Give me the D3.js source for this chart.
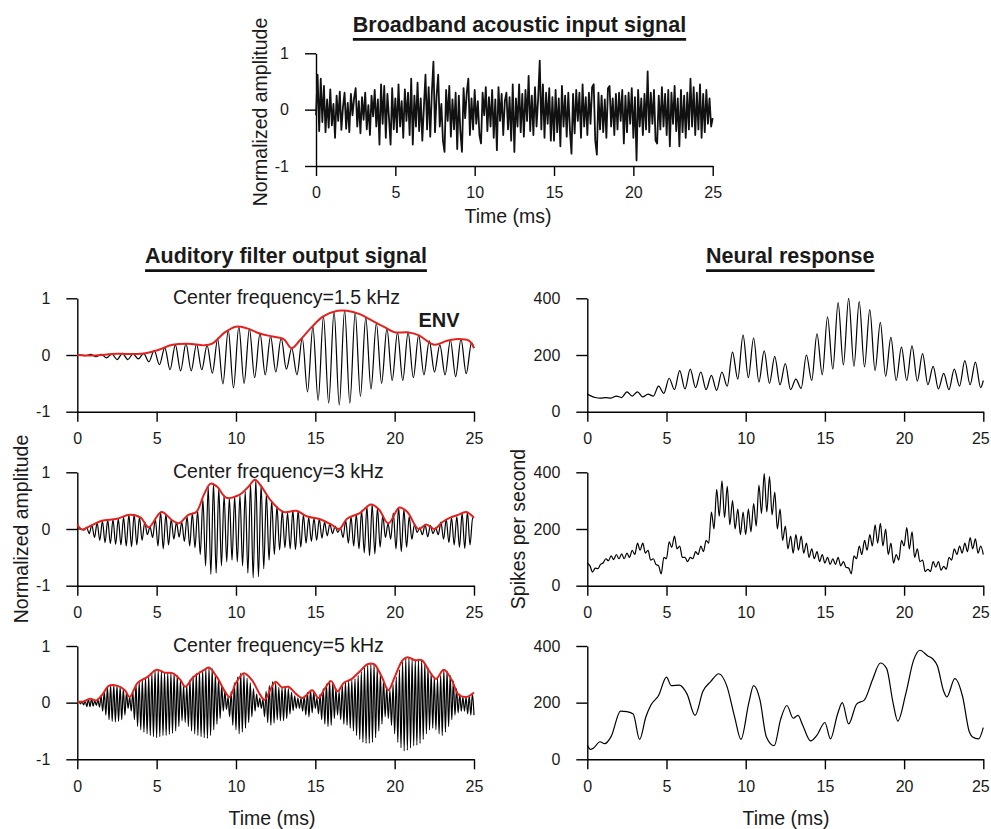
<!DOCTYPE html>
<html>
<head>
<meta charset="utf-8">
<script src="https://cdn.jsdelivr.net/npm/d3@7"></script>
<style>
    body { margin: 0; background: #fff; }
    svg { display: block; font-family: "Liberation Sans", Arial, sans-serif; }
    .axis path, .axis line { stroke: #000; stroke-width: 1.4px; }
    .axis text { font-family: "Liberation Sans", Arial, sans-serif; font-size: 16px; fill: #1a1a1a; }
    .signal { fill: none; stroke: #000; stroke-width: 1.2px; stroke-linejoin: round; }
    .noise { fill: none; stroke: #111; stroke-width: 1.8px; stroke-linejoin: round; }
    .env { fill: none; stroke: #e3221e; stroke-width: 2px; }
    .label { font-size: 19.5px; fill: #1a1a1a; }
    .title { font-size: 21.5px; font-weight: bold; fill: #1a1a1a; }
</style>
</head>
<body>
<svg id="chart" width="991" height="829"></svg>
<script>

// tick values shared by the panels
const timeTicks = [0, 5, 10, 15, 20, 25];
const amplitudeTicks = [-1, 0, 1];
const rateTicks = [0, 200, 400];

// broadband input, one sample every 0.1 ms (rows are 1 ms)
const noiseStep = 0.1;
const noise = [
    -0.10, 0.62, -0.38, 0.55, -0.22, 0.42, -0.40, 0.18, -0.32, 0.36,
    -0.28, 0.10, -0.50, 0.25, -0.20, 0.32, -0.36, 0.05, 0.30, -0.34,
    0.12, -0.40, 0.28, -0.10, 0.20, 0.38, -0.30, 0.15, -0.42, 0.22,
    -0.18, 0.30, -0.35, 0.08, -0.45, 0.25, -0.12, 0.35, -0.30, 0.18,
    -0.62, 0.45, -0.25, 0.42, -0.50, 0.28, -0.15, -0.62, 0.38, -0.35,
    0.20, -0.40, 0.45, -0.30, 0.15, -0.50, 0.36, -0.20, 0.30, -0.45,
    0.55, -0.62, 0.25, -0.30, 0.48, -0.38, 0.20, -0.55, 0.05, 0.62,
    -0.35, 0.40, -0.48, 0.30, 0.85, -0.40, 0.25, 0.62, -0.30, 0.10,
    -0.55, -0.75, 0.35, -0.20, 0.42, -0.48, 0.18, -0.35, 0.30, -0.70,
    0.25, -0.40, -0.75, 0.38, -0.15, 0.30, 0.55, -0.45, 0.20, -0.35,
    0.35, -0.25, 0.15, -0.45, -0.60, 0.30, -0.10, 0.40, -0.38, 0.22,
    -0.30, 0.35, -0.50, 0.18, -0.72, 0.40, -0.20, 0.28, -0.45, 0.15,
    0.30, -0.35, 0.22, -0.55, 0.45, -0.75, 0.20, -0.30, 0.45, -0.40,
    0.28, -0.48, 0.35, -0.20, 0.60, -0.38, 0.25, -0.45, 0.40, -0.30,
    0.20, 0.87, -0.35, 0.45, -0.50, 0.30, -0.25, 0.38, -0.55, 0.22,
    -0.55, 0.35, -0.40, 0.20, -0.65, 0.42, -0.30, 0.25, -0.48, 0.30,
    -0.35, -0.78, 0.28, -0.42, 0.35, -0.20, 0.30, -0.50, 0.45, -0.30,
    0.22, -0.45, 0.30, -0.25, 0.40, 0.45, -0.55, -0.80, 0.30, -0.35,
    0.25, -0.40, 0.18, -0.50, 0.38, 0.42, -0.30, 0.20, -0.45, 0.28,
    -0.35, 0.30, -0.20, 0.35, -0.60, 0.25, -0.40, 0.30, -0.25, 0.38,
    -0.50, 0.22, -0.90, 0.35, -0.30, 0.20, -0.45, 0.28, -0.35, 0.68,
    -0.40, 0.30, -0.25, 0.35, -0.55, -0.60, 0.25, -0.35, 0.40, -0.30,
    0.28, -0.45, 0.35, -0.65, 0.30, -0.25, 0.42, -0.38, 0.20, -0.65,
    0.35, -0.40, 0.25, -0.50, 0.30, -0.35, 0.55, -0.30, 0.40, -0.45,
    0.30, -0.35, 0.45, -0.50, 0.28, -0.40, 0.35, -0.25, 0.20, -0.30,
    -0.15
];

// filter outputs: one peak and one trough value per carrier cycle
const cf15Period = 2 / 3;
const cf15Peaks = [
    0.00, 0.01, 0.01, 0.02, 0.03, 0.02, 0.03, 0.08, 0.13, 0.18,
    0.20, 0.19, 0.17, 0.28, 0.44, 0.50, 0.46, 0.38, 0.33, 0.30,
    0.12, 0.30, 0.50, 0.68, 0.77, 0.79, 0.75, 0.66, 0.56, 0.47,
    0.40, 0.40, 0.35, 0.25, 0.18, 0.26, 0.28, 0.22
];
const cf15Troughs = [
    -0.01, -0.03, -0.05, -0.08, -0.08, -0.07, -0.12, -0.17, -0.26, -0.28,
    -0.28, -0.26, -0.32, -0.51, -0.58, -0.50, -0.40, -0.35, -0.30, -0.25,
    -0.35, -0.65, -0.80, -0.85, -0.88, -0.85, -0.73, -0.60, -0.50, -0.45,
    -0.45, -0.40, -0.35, -0.30, -0.35, -0.38, -0.33
];
const cf15Env = [
    [0, 0], [1, -0.01], [2.5, 0.02], [4, 0.02], [5, 0.08], [6, 0.18], [7, 0.2], [8, 0.17],
    [8.5, 0.2], [9.3, 0.4], [10, 0.5], [10.7, 0.47], [11.5, 0.38], [12.2, 0.33], [13, 0.28],
    [13.5, 0.12], [14, 0.25], [14.8, 0.5], [15.5, 0.68], [16.4, 0.78], [17, 0.78], [17.8, 0.72],
    [18.5, 0.62], [19.3, 0.5], [20, 0.4], [20.8, 0.4], [21.5, 0.35], [22.5, 0.18], [23.3, 0.25],
    [24, 0.28], [24.7, 0.25], [25, 0.12]
];

const cf3Period = 1 / 3;
const cf3Peaks = [
    0.00, 0.03, 0.07, 0.11, 0.14, 0.16, 0.17, 0.18, 0.21, 0.25,
    0.26, 0.21, 0.12, 0.04, 0.18, 0.30, 0.26, 0.17, 0.12, 0.12,
    0.22, 0.28, 0.32, 0.52, 0.74, 0.80, 0.72, 0.60, 0.55, 0.57,
    0.60, 0.66, 0.80, 0.87, 0.78, 0.62, 0.50, 0.40, 0.32, 0.28,
    0.33, 0.32, 0.25, 0.20, 0.19, 0.18, 0.12, 0.09, 0.05, 0.02,
    0.15, 0.22, 0.26, 0.32, 0.40, 0.43, 0.37, 0.25, 0.10, 0.28,
    0.38, 0.34, 0.22, 0.08, 0.02, 0.08, 0.06, 0.02, 0.12, 0.17,
    0.20, 0.22, 0.28, 0.30, 0.20
];
const cf3Troughs = [
    -0.02, -0.08, -0.15, -0.20, -0.24, -0.26, -0.27, -0.28, -0.30, -0.31,
    -0.28, -0.20, -0.10, -0.15, -0.30, -0.35, -0.28, -0.18, -0.14, -0.22,
    -0.30, -0.33, -0.45, -0.65, -0.80, -0.78, -0.65, -0.58, -0.55, -0.58,
    -0.65, -0.78, -0.86, -0.84, -0.70, -0.55, -0.45, -0.37, -0.33, -0.35,
    -0.36, -0.32, -0.25, -0.22, -0.20, -0.16, -0.12, -0.08, -0.06, -0.15,
    -0.25, -0.30, -0.35, -0.42, -0.47, -0.44, -0.32, -0.15, -0.18, -0.35,
    -0.40, -0.32, -0.18, -0.06, -0.10, -0.14, -0.08, -0.10, -0.18, -0.24,
    -0.28, -0.32, -0.34, -0.28
];
const cf3Env = [
    [0, 0.08], [0.3, -0.01], [0.8, 0.05], [1.5, 0.14], [2.5, 0.18], [3.3, 0.25], [4, 0.2],
    [4.5, 0.03], [5.3, 0.3], [6, 0.15], [6.4, 0.1], [7, 0.25], [7.5, 0.3], [8, 0.62], [8.4, 0.8],
    [8.8, 0.75], [9.4, 0.55], [10.2, 0.6], [10.8, 0.75], [11.2, 0.87], [11.6, 0.75], [12.2, 0.5],
    [13, 0.3], [13.8, 0.32], [14.5, 0.22], [15.2, 0.18], [16, 0.08], [16.5, 0], [17, 0.18],
    [17.8, 0.28], [18.5, 0.43], [19, 0.35], [19.6, 0.1], [20.3, 0.38], [20.8, 0.3], [21.5, 0],
    [22, 0.08], [22.5, 0], [23, 0.12], [23.5, 0.2], [24, 0.25], [24.5, 0.3], [25, 0.2]
];

// 5 kHz: peaks every 0.2 ms from 0.1, troughs every 0.2 ms from 0.2 (rows are 1 ms)
const cf5Period = 0.2;
const cf5Peaks = [
    0.02, 0.02, 0.03, 0.06, 0.07,
    0.04, 0.05, 0.12, 0.20, 0.28,
    0.31, 0.31, 0.30, 0.28, 0.24,
    0.18, 0.10, 0.20, 0.32, 0.36,
    0.40, 0.44, 0.47, 0.52, 0.57,
    0.58, 0.55, 0.53, 0.53, 0.52,
    0.52, 0.48, 0.40, 0.30, 0.30,
    0.40, 0.47, 0.52, 0.55, 0.58,
    0.60, 0.62, 0.60, 0.50, 0.42,
    0.30, 0.20, 0.10, 0.20, 0.35,
    0.45, 0.52, 0.50, 0.43, 0.35,
    0.25, 0.15, 0.08, 0.06, 0.20,
    0.30, 0.37, 0.34, 0.27, 0.26,
    0.28, 0.25, 0.18, 0.12, 0.08,
    0.08, 0.12, 0.18, 0.22, 0.18,
    0.08, 0.15, 0.25, 0.33, 0.38,
    0.35, 0.25, 0.20, 0.30, 0.36,
    0.38, 0.40, 0.42, 0.48, 0.55,
    0.62, 0.66, 0.68, 0.68, 0.60,
    0.50, 0.40, 0.28, 0.22, 0.32,
    0.45, 0.58, 0.72, 0.79, 0.80,
    0.77, 0.75, 0.75, 0.75, 0.70,
    0.62, 0.52, 0.45, 0.42, 0.48,
    0.58, 0.56, 0.48, 0.38, 0.25,
    0.15, 0.10, 0.10, 0.12, 0.16
];
const cf5Troughs = [
    -0.02, -0.04, -0.07, -0.07,
    -0.06, -0.05, -0.08, -0.15, -0.22,
    -0.30, -0.33, -0.34, -0.33, -0.30,
    -0.22, -0.10, -0.15, -0.30, -0.42,
    -0.48, -0.52, -0.55, -0.58, -0.60,
    -0.62, -0.60, -0.58, -0.58, -0.56,
    -0.54, -0.50, -0.42, -0.32, -0.35,
    -0.42, -0.50, -0.55, -0.58, -0.60,
    -0.62, -0.63, -0.58, -0.48, -0.38,
    -0.28, -0.15, -0.12, -0.25, -0.40,
    -0.48, -0.55, -0.52, -0.45, -0.35,
    -0.25, -0.15, -0.08, -0.10, -0.25,
    -0.35, -0.40, -0.36, -0.30, -0.32,
    -0.32, -0.28, -0.20, -0.14, -0.10,
    -0.10, -0.15, -0.22, -0.25, -0.18,
    -0.10, -0.20, -0.30, -0.38, -0.42,
    -0.40, -0.28, -0.22, -0.30, -0.38,
    -0.40, -0.45, -0.50, -0.58, -0.65,
    -0.70, -0.72, -0.72, -0.70, -0.62,
    -0.50, -0.38, -0.25, -0.28, -0.40,
    -0.55, -0.70, -0.80, -0.85, -0.84,
    -0.80, -0.76, -0.75, -0.72, -0.65,
    -0.55, -0.48, -0.45, -0.48, -0.55,
    -0.58, -0.52, -0.42, -0.30, -0.22,
    -0.18, -0.15, -0.15, -0.20, -0.22
];
const cf5Env = [
    [0, 0.02], [0.4, 0.02], [0.8, 0.07], [1.2, 0.04], [1.6, 0.15], [2, 0.3], [2.5, 0.3], [3, 0.22],
    [3.3, 0.1], [3.8, 0.35], [4.4, 0.45], [5, 0.58], [5.5, 0.53], [6, 0.52], [6.5, 0.4], [6.8, 0.28],
    [7.3, 0.45], [8, 0.58], [8.3, 0.62], [8.8, 0.45], [9.3, 0.2], [9.6, 0.1], [10, 0.35], [10.5, 0.52],
    [11, 0.4], [11.5, 0.15], [11.8, 0.05], [12.2, 0.25], [12.5, 0.37], [12.9, 0.27], [13.3, 0.28],
    [13.8, 0.15], [14.2, 0.08], [14.8, 0.22], [15.2, 0.08], [15.6, 0.25], [16, 0.38], [16.4, 0.2],
    [16.8, 0.35], [17.3, 0.42], [17.8, 0.55], [18.3, 0.68], [18.7, 0.68], [19.2, 0.45], [19.6, 0.22],
    [20, 0.45], [20.5, 0.75], [20.8, 0.8], [21.3, 0.75], [21.7, 0.75], [22.2, 0.55], [22.6, 0.42],
    [23.1, 0.58], [23.6, 0.4], [24, 0.15], [24.5, 0.1], [25, 0.18]
];

// neural responses in spikes per second
const n15Peaks = [
    50, 50, 55, 70, 70, 62, 90, 118, 145, 150,
    140, 128, 140, 210, 270, 260, 215, 195, 170, 115,
    200, 275, 335, 385, 400, 388, 360, 315, 262, 228,
    232, 205, 160, 135, 150, 180, 175
];
const n15Troughs = [
    48, 48, 50, 55, 52, 55, 65, 78, 80, 85,
    78, 75, 90, 115, 120, 105, 100, 95, 78, 82,
    110, 130, 150, 165, 160, 158, 145, 125, 110, 110,
    108, 95, 80, 78, 90, 95, 85
];

const n3Peaks = [
    70, 62, 75, 95, 105, 110, 112, 115, 125, 150,
    150, 125, 95, 70, 100, 155, 175, 140, 100, 100,
    120, 140, 160, 260, 340, 370, 350, 300, 270, 260,
    270, 290, 355, 395, 385, 330, 270, 210, 175, 180,
    175, 150, 130, 120, 110, 100, 95, 100, 85, 62,
    105, 140, 160, 180, 215, 220, 200, 150, 110, 160,
    205, 190, 130, 90, 58, 85, 85, 68, 100, 130,
    140, 150, 170, 165, 140
];
const n3Troughs = [
    48, 60, 80, 88, 92, 95, 95, 100, 110, 125,
    115, 90, 75, 42, 95, 135, 130, 100, 85, 95,
    110, 120, 150, 200, 245, 240, 215, 200, 180, 180,
    190, 210, 255, 260, 250, 200, 160, 130, 115, 125,
    115, 100, 95, 85, 80, 75, 75, 70, 65, 42,
    95, 110, 125, 140, 150, 140, 110, 80, 90, 140,
    130, 100, 85, 50, 50, 65, 55, 58, 90, 110,
    115, 120, 130, 115
];

const n5 = [
    [0, 50], [0.2, 35], [0.4, 40], [0.8, 62], [1.1, 55], [1.5, 80], [2.1, 170], [2.5, 168],
    [2.9, 160], [3.3, 70], [3.7, 150], [4, 190], [4.5, 225], [5, 290], [5.3, 260], [5.8, 262],
    [6.3, 230], [6.8, 155], [7.3, 240], [7.8, 275], [8.3, 302], [8.8, 260], [9.3, 150], [9.7, 70],
    [10.2, 200], [10.5, 260], [10.9, 210], [11.3, 80], [11.8, 48], [12.2, 140], [12.6, 190],
    [13, 145], [13.3, 155], [13.6, 120], [14.1, 65], [14.5, 85], [15, 130], [15.35, 72], [15.8, 160],
    [16.1, 200], [16.5, 125], [17, 195], [17.5, 210], [18, 280], [18.5, 340], [18.9, 320],
    [19.3, 200], [19.6, 135], [20.1, 230], [20.6, 350], [21, 385], [21.5, 365], [21.8, 355],
    [22.1, 330], [22.5, 240], [22.7, 220], [23.2, 285], [23.7, 220], [24.1, 100], [24.3, 80],
    [24.7, 72], [25, 112]
];

let svg = d3.select('#chart');

// the three columns share the time domain, only their pixel extents differ
const topX = d3.scaleLinear().domain([0, 25]).range([316, 712.7]);
const leftX = d3.scaleLinear().domain([0, 25]).range([77.3, 474]);
const rightX = d3.scaleLinear().domain([0, 25]).range([587.3, 983.3]);

// vertical extents of the three rows of panels (bottom, top)
const rows = [[411.7, 298.3], [585.7, 472.3], [759.3, 646]];

/** Merge per-cycle peaks and troughs into one time ordered trace. */
function oscillation( start, peaks, peakT0, troughs, troughT0, period, end ) {
    let pts = [[0, start]];
    peaks.forEach( (v, i) => pts.push([peakT0 + i * period, v]) );
    troughs.forEach( (v, i) => pts.push([troughT0 + i * period, v]) );
    pts.push([25, end]);
    return pts.sort( (a, b) => a[0] - b[0] );
}

/** Draw a bottom time axis and a left value axis for one panel. */
function axes( x, y, yTicks ) {
    let bottom = svg.append('g')
        .attr('class', 'axis')
        .attr('transform', `translate(0,${y.range()[0]})`)
        .call( d3.axisBottom(x).tickValues(timeTicks).tickSize(10).tickSizeOuter(0)
            .tickPadding(11).tickFormat( d => String(d) ) );
    // the last label of the right column sits against the page edge, nudge it inside
    if ( x.range()[1] > 980 )
        bottom.selectAll('.tick text').filter( d => d === 25 ).attr('dx', -3);
    svg.append('g')
        .attr('class', 'axis')
        .attr('transform', `translate(${x.range()[0]},0)`)
        .call( d3.axisLeft(y).tickValues(yTicks).tickSize(11).tickSizeOuter(0)
            .tickPadding(16).tickFormat( d => String(d) ) );
}

function trace( x, y, pts, cls, curve ) {
    svg.append('path')
        .datum( pts )
        .attr('class', cls)
        .attr('d', d3.line().x( d => x(d[0]) ).y( d => y(d[1]) ).curve(curve) );
}

// bold headings with a drawn underline
function heading( text, cx, baseline, lineY ) {
    let t = svg.append('text')
        .attr('class', 'title')
        .attr('x', cx)
        .attr('y', baseline)
        .attr('text-anchor', 'middle')
        .text( text );
    let box = t.node().getBBox();
    svg.append('line')
        .attr('x1', box.x).attr('x2', box.x + box.width)
        .attr('y1', lineY).attr('y2', lineY)
        .attr('stroke', '#111').attr('stroke-width', 2.7);
}

function label( text, x, y, rotate ) {
    svg.append('text')
        .attr('class', 'label')
        .attr('text-anchor', 'middle')
        .attr('dominant-baseline', rotate ? 'central' : 'auto')
        .attr('transform', `translate(${x},${y})` + (rotate ? ' rotate(-90)' : ''))
        .text( text );
}

// top panel: the broadband input
let topY = d3.scaleLinear().domain([-1, 1]).range([166, 53.3]);
axes( topX, topY, amplitudeTicks );
trace( topX, topY, noise.map( (v, i) => [i * noiseStep, v] ), 'noise', d3.curveLinear );
heading( 'Broadband acoustic input signal', 519.5, 31.7, 39.3 );
label( 'Normalized amplitude', 260, 112, true );
label( 'Time (ms)', 508, 223 );

// left column: filter outputs and their envelopes
let filters = [
    { pts: oscillation(0, cf15Peaks, 0.18, cf15Troughs, 0.51, cf15Period, 0.12), env: cf15Env, name: 'Center frequency=1.5 kHz' },
    { pts: oscillation(0, cf3Peaks, 0.25, cf3Troughs, 0.4167, cf3Period, 0.2), env: cf3Env, name: 'Center frequency=3 kHz' },
    { pts: oscillation(0.02, cf5Peaks, 0.1, cf5Troughs, 0.2, cf5Period, -0.22), env: cf5Env, name: 'Center frequency=5 kHz' }
];
filters.forEach( (f, i) => {
    let y = d3.scaleLinear().domain([-1, 1]).range( rows[i] );
    axes( leftX, y, amplitudeTicks );
    trace( leftX, y, f.pts, 'signal', d3.curveMonotoneX );
    trace( leftX, y, f.env, 'env', d3.curveCatmullRom );
    svg.append('text')
        .attr('class', 'label')
        .attr('x', 173)
        .attr('y', y(1) + 6)
        .text( f.name );
});
svg.append('text')
    .attr('class', 'title')
    .attr('x', 439).attr('y', 327)
    .attr('text-anchor', 'middle')
    .style('font-size', '20px')
    .text('ENV');
heading( 'Auditory filter output signal', 286, 262.7, 270.7 );
label( 'Normalized amplitude', 20.5, 529, true );
label( 'Time (ms)', 272, 824.7 );

// right column: neural responses
let neural = [
    oscillation(62, n15Peaks, 0.5, n15Troughs, 0.8333, 2 / 3, 110),
    oscillation(80, n3Peaks, 0.17, n3Troughs, 0.33, 1 / 3, 110),
    n5
];
neural.forEach( (pts, i) => {
    let y = d3.scaleLinear().domain([0, 400]).range( rows[i] );
    axes( rightX, y, rateTicks );
    trace( rightX, y, pts, 'signal', d3.curveMonotoneX );
});
heading( 'Neural response', 790.3, 262.7, 270.7 );
label( 'Spikes per second', 518, 529, true );
label( 'Time (ms)', 786, 824.7 );

</script>
</body>
</html>
